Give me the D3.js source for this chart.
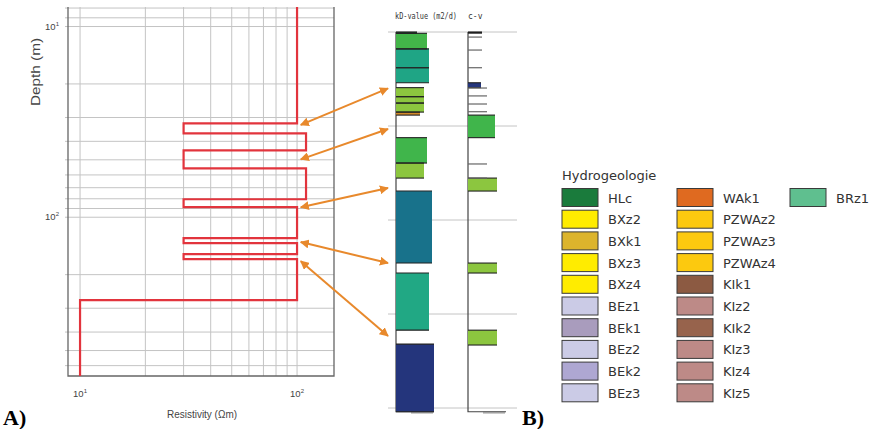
<!DOCTYPE html>
<html>
<head>
<meta charset="utf-8">
<script src="https://cdn.jsdelivr.net/npm/d3@7"></script>
<style>
  body { margin: 0; background: #fff; }
  svg { display: block; }
</style>
</head>
<body>
<div id="chart"></div>
<script>
// A) resistivity model: layer tops (m) and resistivity (Ohm m)
const layerTops = [7.9, 32.2, 36.3, 44.6, 55.4, 80.5, 88.6, 128.8, 136.8, 156, 166, 272];
const resistivity = [100, 30, 110, 30, 110, 30, 100, 30, 100, 30, 100, 10];
const modelBottom = 680;
const resGrid = [10, 20, 30, 40, 50, 60, 70, 80, 90, 100];
const depthGrid = [8, 9, 10, 20, 30, 40, 50, 60, 70, 80, 90, 100, 200, 300, 400, 500, 600];

// arrows: depth in A) -> depth in B)
const arrowFrom = [32.8, 49.7, 88.7, 135, 170];
const arrowTo = [30, 51.6, 83, 122.9, 161.7];

// B) kD column
const kdTop = [0, 0.7, 9.0, 19.0, 29.6, 34.4, 37.8, 42.6, 56.2, 69.7, 84.6, 128.2, 166];
const kdBottom = [0.7, 9.0, 19.0, 27.0, 34.4, 37.8, 42.6, 44.2, 69.7, 77.7, 122.9, 158.6, 202];
const kdValue = [21, 31, 33, 33, 28, 28, 28, 24, 31, 28, 36, 33, 38];
const kdColor = ["#1f5a30", "#43b549", "#1fa585", "#1fa585", "#8cc63f", "#8cc63f", "#8cc63f",
  "#d38a2a", "#40b54b", "#8cc63f", "#18728b", "#21a884", "#24357c"];

// B) c-v column
const cvTop = [0, 27.0, 44.2, 77.7, 122.9, 158.6];
const cvBottom = [0.6, 29.6, 56.2, 84.6, 128.2, 166.5];
const cvValue = [14, 13, 27, 29, 29, 29];
const cvColor = ["#1a1a1a", "#24357c", "#40b54b", "#8cc63f", "#8cc63f", "#8cc63f"];
const cvMarkDepth = [2.7, 9.6, 19.0, 29.8, 34.0, 38.3, 42.4, 70.2, 77.7];
const cvMarkValue = [14, 14, 14, 19, 19, 19, 19, 19, 19];
const midGrid = [0, 50, 100, 150, 200];

// legend
const legendCol1 = ["HLc", "BXz2", "BXk1", "BXz3", "BXz4", "BEz1", "BEk1", "BEz2", "BEk2", "BEz3"];
const legendCol1Color = ["#1a7b3c", "#ffec00", "#dcb42c", "#ffec00", "#ffec00", "#cbcbe6", "#a99cbd", "#cbcbe6", "#aea7d2", "#cbcbe6"];
const legendCol2 = ["WAk1", "PZWAz2", "PZWAz3", "PZWAz4", "KIk1", "KIz2", "KIk2", "KIz3", "KIz4", "KIz5"];
const legendCol2Color = ["#df6a20", "#fcc90f", "#fcc90f", "#fcc90f", "#8c5a42", "#bd8a87", "#97634c", "#bd8a87", "#bd8a87", "#bd8a87"];
const legendCol3 = ["BRz1"];
const legendCol3Color = ["#5fbf8f"];

const W = 885, H = 429;
const svg = d3.select("#chart").append("svg").attr("width", W).attr("height", H);
const narrow = "Liberation Sans Narrow, Liberation Sans, Arial, sans-serif";

// ---------- A) resistivity panel ----------
const x = d3.scaleLog().domain([8.8, 148]).range([68, 334]);
const y = d3.scaleLog().domain([7.9, 680]).range([7, 376]);

const gA = svg.append("g");
gA.selectAll(".vg").data(resGrid).enter().append("line")
  .attr("x1", d => x(d)).attr("x2", d => x(d))
  .attr("y1", y.range()[0]).attr("y2", y.range()[1])
  .attr("stroke", "#c4c4c4").attr("stroke-width", 1);
gA.selectAll(".hg").data(depthGrid).enter().append("line")
  .attr("x1", x.range()[0] - 3).attr("x2", x.range()[1])
  .attr("y1", d => y(d)).attr("y2", d => y(d))
  .attr("stroke", "#c4c4c4").attr("stroke-width", 1);

// frame
gA.append("path")
  .attr("d", `M${x.range()[0]},${y.range()[0]}V${y.range()[1]}H${x.range()[1]}V${y.range()[0]}`)
  .attr("fill", "none").attr("stroke", "#666").attr("stroke-width", 1.3);

// step model
const pts = [];
resistivity.forEach((r, i) => {
  const bot = i < layerTops.length - 1 ? layerTops[i + 1] : modelBottom;
  pts.push([r, layerTops[i]], [r, bot]);
});
gA.append("path")
  .attr("d", d3.line().x(d => x(d[0])).y(d => y(d[1]))(pts))
  .attr("fill", "none").attr("stroke", "#e2343d").attr("stroke-width", 2.2);

// tick labels
function powLabel(g, px, py, exp, anchor) {
  const t = g.append("text").attr("x", px).attr("y", py)
    .attr("text-anchor", anchor)
    .attr("font-family", narrow)
    .attr("font-size", 9.5).attr("fill", "#444");
  t.append("tspan").text("10");
  t.append("tspan").attr("dy", -4).attr("font-size", 6).text(exp);
}
powLabel(gA, x(10), 397, "1", "middle");
powLabel(gA, x(100), 397, "2", "middle");
powLabel(gA, 59, y(10) + 3, "1", "end");
powLabel(gA, 59, y(100) + 3, "2", "end");

gA.append("text")
  .attr("transform", "translate(40,72) rotate(-90)")
  .attr("text-anchor", "middle")
  .attr("font-family", narrow)
  .attr("font-size", 12.5).attr("fill", "#444")
  .attr("textLength", 68).attr("lengthAdjust", "spacingAndGlyphs")
  .text("Depth (m)");
gA.append("text")
  .attr("x", 202).attr("y", 418)
  .attr("text-anchor", "middle")
  .attr("font-family", narrow)
  .attr("font-size", 10.5).attr("fill", "#444")
  .attr("textLength", 70).attr("lengthAdjust", "spacingAndGlyphs")
  .text("Resistivity (Ωm)");

// ---------- B) columns ----------
const yM = d3.scaleLinear().domain([0, 200]).range([32, 408]);
const xKD = d3.scaleLinear().domain([0, 40]).range([396, 436]);
const xCV = d3.scaleLinear().domain([0, 40]).range([468, 508]);

const gB = svg.append("g");
gB.selectAll(".mg").data(midGrid).enter().append("line")
  .attr("x1", 388).attr("x2", 517)
  .attr("y1", d => yM(d)).attr("y2", d => yM(d))
  .attr("stroke", "#c4c4c4").attr("stroke-width", 1);

// axis lines of the two columns
[xKD, xCV].forEach(sc => {
  gB.append("path")
    .attr("d", `M${sc(0)},${yM(0)}V${yM(202)}H${sc(38)}`)
    .attr("fill", "none").attr("stroke", "#444").attr("stroke-width", 1.2);
  const hatch = d3.range(16, 38, 2);
  gB.selectAll(null).data(hatch).enter().append("line")
    .attr("x1", d => sc(d)).attr("x2", d => sc(d))
    .attr("y1", yM(202)).attr("y2", yM(202) + 2)
    .attr("stroke", "#555").attr("stroke-width", 0.8);
});

function drawColumn(tops, bottoms, vals, cols, sc) {
  const idx = d3.range(tops.length);
  gB.selectAll(null).data(idx).enter().append("rect")
    .attr("x", sc(0)).attr("y", i => yM(tops[i]))
    .attr("width", i => sc(vals[i]) - sc(0))
    .attr("height", i => Math.max(1, yM(bottoms[i]) - yM(tops[i])))
    .attr("fill", i => cols[i]);
  const edges = [];
  idx.forEach(i => { edges.push([tops[i], vals[i]], [bottoms[i], vals[i]]); });
  gB.selectAll(null).data(edges).enter().append("line")
    .attr("x1", sc(0)).attr("x2", d => sc(d[1]))
    .attr("y1", d => yM(d[0])).attr("y2", d => yM(d[0]))
    .attr("stroke", "#222").attr("stroke-width", 1.1);
}
drawColumn(kdTop, kdBottom, kdValue, kdColor, xKD);
drawColumn(cvTop, cvBottom, cvValue, cvColor, xCV);

gB.selectAll(".cvm").data(cvMarkDepth).enter().append("line")
  .attr("x1", xCV(0)).attr("x2", (d, i) => xCV(cvMarkValue[i]))
  .attr("y1", d => yM(d)).attr("y2", d => yM(d))
  .attr("stroke", "#666").attr("stroke-width", 1.2);

gB.append("text").attr("x", 395).attr("y", 19)
  .attr("font-family", "DejaVu Sans Mono, monospace").attr("font-size", 8).attr("fill", "#333")
  .attr("textLength", 62).attr("lengthAdjust", "spacingAndGlyphs")
  .text("kD-value (m2/d)");
gB.append("text").attr("x", 468).attr("y", 19)
  .attr("font-family", "DejaVu Sans Mono, monospace").attr("font-size", 8).attr("fill", "#333")
  .text("c-v");

// ---------- arrows ----------
const defs = svg.append("defs");
defs.append("marker").attr("id", "ah")
  .attr("viewBox", "0 0 10 10").attr("refX", 9).attr("refY", 5)
  .attr("markerWidth", 4.5).attr("markerHeight", 4.5)
  .attr("orient", "auto-start-reverse")
  .append("path").attr("d", "M0,0L10,5L0,10z").attr("fill", "#e8892c");

svg.selectAll(".arr").data(arrowFrom).enter().append("line")
  .attr("x1", x(104)).attr("y1", d => y(d))
  .attr("x2", 388).attr("y2", (d, i) => yM(arrowTo[i]))
  .attr("stroke", "#e8892c").attr("stroke-width", 2)
  .attr("marker-start", "url(#ah)").attr("marker-end", "url(#ah)");

// ---------- legend ----------
const gL = svg.append("g").attr("font-family", "DejaVu Sans, sans-serif").attr("font-size", 13).attr("fill", "#333");
gL.append("text").attr("x", 562).attr("y", 180).text("Hydrogeologie");
const rowY = d3.scaleLinear().domain([0, 1]).range([188.5, 210.2]);
[[legendCol1, legendCol1Color, 562], [legendCol2, legendCol2Color, 677], [legendCol3, legendCol3Color, 790]]
  .forEach(([labels, colors, lx]) => {
    const g = gL.append("g");
    g.selectAll("rect").data(labels).enter().append("rect")
      .attr("x", lx).attr("y", (d, i) => rowY(i))
      .attr("width", 36).attr("height", 18)
      .attr("fill", (d, i) => colors[i]).attr("stroke", "#3a3a3a").attr("stroke-width", 1);
    g.selectAll("text").data(labels).enter().append("text")
      .attr("x", lx + 46).attr("y", (d, i) => rowY(i) + 14)
      .text(d => d);
  });

// panel letters
svg.append("text").attr("x", 3).attr("y", 425)
  .attr("font-family", "Liberation Serif, serif").attr("font-weight", "bold").attr("font-size", 22)
  .text("A)");
svg.append("text").attr("x", 522).attr("y", 425)
  .attr("font-family", "Liberation Serif, serif").attr("font-weight", "bold").attr("font-size", 22)
  .text("B)");
</script>
</body>
</html>
